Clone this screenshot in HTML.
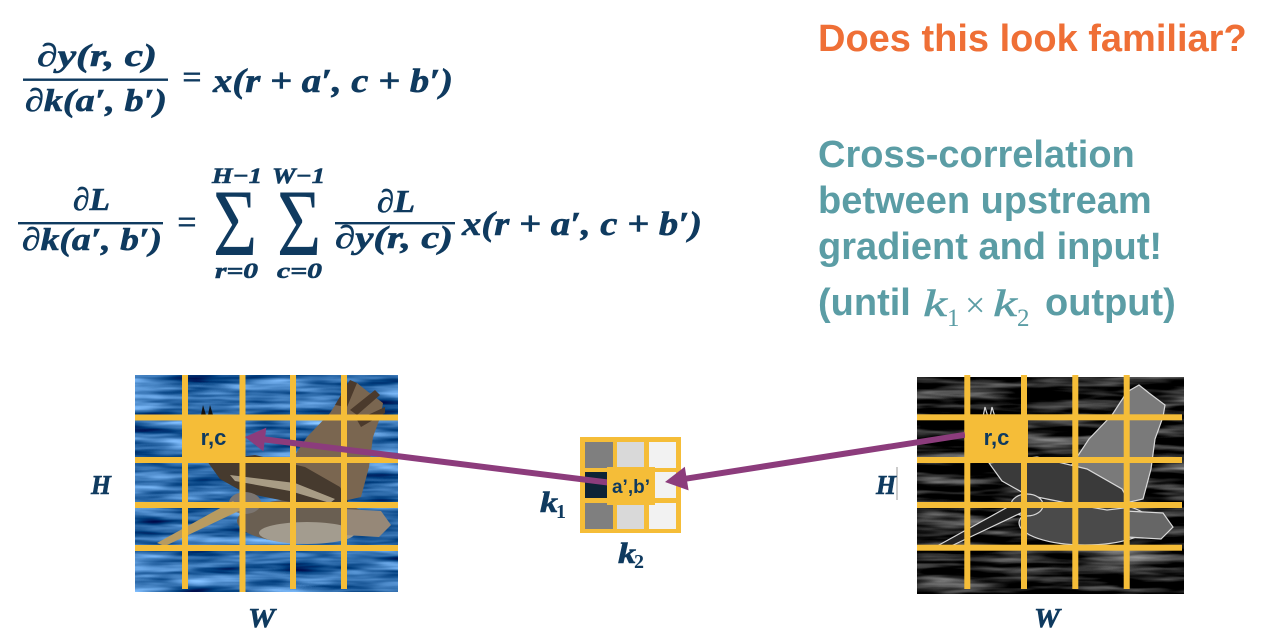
<!DOCTYPE html>
<html><head><meta charset="utf-8"><style>
html,body{margin:0;padding:0;background:#fff;width:1280px;height:642px;overflow:hidden}
svg{display:block}
.m{font-family:"Liberation Serif","DejaVu Serif",serif;font-style:italic;font-weight:bold;fill:#0f3a5f;stroke:#0f3a5f;stroke-width:0.6}
.u{font-family:"Liberation Serif","DejaVu Serif",serif;fill:#0f3a5f}
.s{font-family:"Liberation Sans",Arial,sans-serif;font-weight:bold}
.t{fill:#5b9da5}
</style></head><body>
<svg width="1280" height="642" viewBox="0 0 1280 642" xmlns="http://www.w3.org/2000/svg">
<defs>
<filter id="water" x="135" y="375" width="263" height="217" filterUnits="userSpaceOnUse" color-interpolation-filters="sRGB">
 <feTurbulence type="fractalNoise" baseFrequency="0.012 0.11" numOctaves="3" seed="4"/>
 <feColorMatrix type="matrix" values="1.1 0 0 0 -0.36  1.1 0 0 0 -0.12  1.1 0 0 0 0.13  0 0 0 0 1"/>
</filter>
<filter id="dark" x="917" y="377" width="267" height="217" filterUnits="userSpaceOnUse" color-interpolation-filters="sRGB">
 <feTurbulence type="fractalNoise" baseFrequency="0.012 0.11" numOctaves="3" seed="7"/>
 <feColorMatrix type="matrix" values="1.3 0 0 0 -0.55  1.3 0 0 0 -0.55  1.3 0 0 0 -0.55  0 0 0 0 1"/>
</filter>
</defs>
<rect width="1280" height="642" fill="#fff"/>

<!-- Equation 1 -->
<text class="m" x="37" y="66" font-size="32" textLength="120" lengthAdjust="spacingAndGlyphs">∂y(r, c)</text>
<rect x="23" y="78.5" width="145" height="2.4" fill="#0f3a5f"/>
<text class="m" x="25" y="111" font-size="32" textLength="142" lengthAdjust="spacingAndGlyphs">∂k(a′, b′)</text>
<text class="u" x="182" y="88" font-size="34" font-weight="bold" textLength="20" lengthAdjust="spacingAndGlyphs">=</text>
<text class="m" x="213" y="92" font-size="34" textLength="240" lengthAdjust="spacingAndGlyphs">x(r + a′, c + b′)</text>

<!-- Equation 2 -->
<text class="m" x="73" y="210" font-size="32" textLength="37" lengthAdjust="spacingAndGlyphs">∂L</text>
<rect x="18" y="222" width="145" height="2.4" fill="#0f3a5f"/>
<text class="m" x="22" y="250" font-size="32" textLength="140" lengthAdjust="spacingAndGlyphs">∂k(a′, b′)</text>
<text class="u" x="177" y="233" font-size="34" font-weight="bold" textLength="20" lengthAdjust="spacingAndGlyphs">=</text>
<text class="m" x="212" y="183" font-size="22" textLength="50" lengthAdjust="spacingAndGlyphs">H−1</text>
<text class="u" transform="translate(213,255) scale(0.8,1)" font-size="95">Σ</text>
<text class="m" x="215" y="278" font-size="22" textLength="43" lengthAdjust="spacingAndGlyphs">r=0</text>
<text class="m" x="272" y="183" font-size="22" textLength="53" lengthAdjust="spacingAndGlyphs">W−1</text>
<text class="u" transform="translate(277,255) scale(0.8,1)" font-size="95">Σ</text>
<text class="m" x="277" y="278" font-size="22" textLength="45" lengthAdjust="spacingAndGlyphs">c=0</text>
<text class="m" x="377" y="212" font-size="32" textLength="38" lengthAdjust="spacingAndGlyphs">∂L</text>
<rect x="335" y="222" width="120" height="2.4" fill="#0f3a5f"/>
<text class="m" x="335" y="248" font-size="32" textLength="118" lengthAdjust="spacingAndGlyphs">∂y(r, c)</text>
<text class="m" x="462" y="235" font-size="34" textLength="240" lengthAdjust="spacingAndGlyphs">x(r + a′, c + b′)</text>

<!-- Right texts -->
<text class="s" x="818" y="51" font-size="38" fill="#ef6f36">Does this look familiar?</text>
<text class="s t" x="818" y="167" font-size="38">Cross-correlation</text>
<text class="s t" x="818" y="213" font-size="38">between upstream</text>
<text class="s t" x="818" y="259" font-size="38">gradient and input!</text>
<text class="s t" x="818" y="315" font-size="38">(until</text>
<text class="t" x="923" y="316" font-size="38" font-family="Liberation Serif, serif" font-style="italic" textLength="24" lengthAdjust="spacingAndGlyphs" stroke="#5b9da5" stroke-width="0.5">k</text>
<text class="t" x="947" y="326" font-size="25" font-family="Liberation Serif, serif">1</text>
<text class="t" x="965" y="317" font-size="36" font-family="Liberation Serif, serif">×</text>
<text class="t" x="993" y="316" font-size="38" font-family="Liberation Serif, serif" font-style="italic" textLength="24" lengthAdjust="spacingAndGlyphs" stroke="#5b9da5" stroke-width="0.5">k</text>
<text class="t" x="1017" y="326" font-size="25" font-family="Liberation Serif, serif">2</text>
<text class="s t" x="1045" y="315" font-size="38">output)</text>

<!-- Left image -->
<rect x="135" y="375" width="263" height="217" filter="url(#water)"/>
<g transform="translate(135,375)">
 <path d="M150,95 L172,62 L195,38 L210,15 L222,8 L232,16 L248,28 L246,40 L238,62 L234,92 L226,122 L200,128 L168,118 Z" fill="#7a6650"/>
 <path d="M200,30 L215,5 L222,8 L212,32 Z M215,35 L240,15 L245,20 L222,40 Z M222,45 L250,32 L250,38 L226,52 Z" fill="#4b3a2c"/>
 <ellipse cx="168" cy="146" rx="66" ry="22" fill="#6a5f52"/>
 <ellipse cx="172" cy="158" rx="48" ry="11" fill="#a39c8f"/>
 <path d="M208,134 L246,136 L256,150 L244,162 L210,160 Z" fill="#968878"/>
 <path d="M72,86 L120,80 L170,92 L205,112 L215,130 L190,133 L150,126 L110,118 L85,104 Z" fill="#463a2e"/>
 <path d="M95,100 L160,108 L200,124 L195,128 L155,116 L100,106 Z" fill="#a89c85"/>
 <ellipse cx="110" cy="128" rx="16" ry="11" fill="#7b7570"/>
 <path d="M22,168 L98,126 L108,134 L30,171 Z" fill="#b89b60"/>
 <path d="M66,40 L68,30 L71,40 Z M73,40 L75,30 L78,40 Z" fill="#111"/>
</g>
<g fill="#f5bd38">
 <rect x="182" y="375" width="6" height="214"/>
 <rect x="239.5" y="375" width="6" height="217"/>
 <rect x="290" y="375" width="6" height="214"/>
 <rect x="341" y="375" width="6" height="214"/>
 <rect x="135" y="414.5" width="263" height="6"/>
 <rect x="135" y="457" width="263" height="6"/>
 <rect x="135" y="502" width="263" height="6"/>
 <rect x="135" y="545" width="263" height="6"/>
</g>

<!-- Right image -->
<rect x="917" y="377" width="267" height="217" filter="url(#dark)"/>
<g transform="translate(917,377)" stroke="#d8d8d8" stroke-width="1.2">
 <path d="M150,95 L172,62 L195,38 L210,15 L222,8 L232,16 L248,28 L246,40 L238,62 L234,92 L226,122 L200,128 L168,118 Z" fill="#7a7a7a"/>
 <ellipse cx="168" cy="146" rx="66" ry="22" fill="#4a4a4a"/>
 <path d="M208,134 L246,136 L256,150 L244,162 L210,160 Z" fill="#666"/>
 <path d="M72,86 L120,80 L170,92 L205,112 L215,130 L190,133 L150,126 L110,118 L85,104 Z" fill="#3a3a3a"/>
 <ellipse cx="110" cy="128" rx="16" ry="11" fill="#444"/>
 <path d="M22,168 L98,126 L108,134 L30,171 Z" fill="#222"/>
 <path d="M66,40 L68,30 L71,40 Z M73,40 L75,30 L78,40 Z" fill="none"/>
</g>
<g fill="#f5bd38">
 <rect x="964.3" y="375" width="6" height="214"/>
 <rect x="1021" y="375" width="6" height="214"/>
 <rect x="1072.3" y="375" width="6" height="214"/>
 <rect x="1123.7" y="375" width="6" height="214"/>
 <rect x="917" y="414.3" width="265" height="6"/>
 <rect x="917" y="457" width="265" height="6"/>
 <rect x="917" y="502" width="265" height="6"/>
 <rect x="917" y="544.7" width="265" height="6"/>
</g>
<line x1="897" y1="467" x2="897" y2="500" stroke="#999" stroke-width="1"/>

<!-- labels H / W -->
<text class="m" x="91" y="494" font-size="27" textLength="20" lengthAdjust="spacingAndGlyphs">H</text>
<text class="m" x="248" y="627" font-size="27" textLength="27" lengthAdjust="spacingAndGlyphs">W</text>
<text class="m" x="876" y="494" font-size="27" textLength="20" lengthAdjust="spacingAndGlyphs">H</text>
<text class="m" x="1034" y="627" font-size="27" textLength="26" lengthAdjust="spacingAndGlyphs">W</text>

<!-- Kernel -->
<rect x="580" y="437" width="101" height="96" fill="#f5bd38"/>
<rect x="585" y="442" width="28" height="26" fill="#7f7f7f"/>
<rect x="617" y="442" width="27" height="26" fill="#d9d9d9"/>
<rect x="649" y="442" width="27" height="26" fill="#f2f2f2"/>
<rect x="585" y="472" width="28" height="26" fill="#0d2336"/>
<rect x="649" y="472" width="27" height="26" fill="#f2f2f2"/>
<rect x="585" y="503" width="28" height="26" fill="#7f7f7f"/>
<rect x="617" y="503" width="27" height="26" fill="#d9d9d9"/>
<rect x="649" y="503" width="27" height="26" fill="#f2f2f2"/>
<text class="m" x="540" y="512" font-size="30" textLength="18" lengthAdjust="spacingAndGlyphs">k</text>
<text class="u" x="556" y="518" font-size="20" font-weight="bold">1</text>
<text class="m" x="618" y="563" font-size="30" textLength="18" lengthAdjust="spacingAndGlyphs">k</text>
<text class="u" x="634" y="568" font-size="20" font-weight="bold">2</text>

<!-- Arrows -->
<g fill="#8c3c7c" stroke="none">
 <line x1="264" y1="439.4" x2="612" y2="483" stroke="#8c3c7c" stroke-width="6"/>
 <polygon points="245,437 266.3,427.6 263.4,451.4"/>
 <line x1="685" y1="478.8" x2="965" y2="434.8" stroke="#8c3c7c" stroke-width="6"/>
 <polygon points="665,482 684.8,466.7 688.6,490.4"/>
</g>

<!-- center kernel box -->
<rect x="607" y="467" width="48" height="38" fill="#f5bd38"/>
<text class="s" x="631" y="493" font-size="19" fill="#0f3a5f" text-anchor="middle">a’,b’</text>

<!-- r,c boxes -->
<rect x="182" y="415" width="63" height="45" fill="#f5bd38"/>
<text class="s" x="213.5" y="445" font-size="22" fill="#0f3a5f" text-anchor="middle">r,c</text>
<rect x="965" y="415" width="63" height="43" fill="#f5bd38"/>
<text class="s" x="996.5" y="445" font-size="22" fill="#0f3a5f" text-anchor="middle">r,c</text>
</svg>
</body></html>
